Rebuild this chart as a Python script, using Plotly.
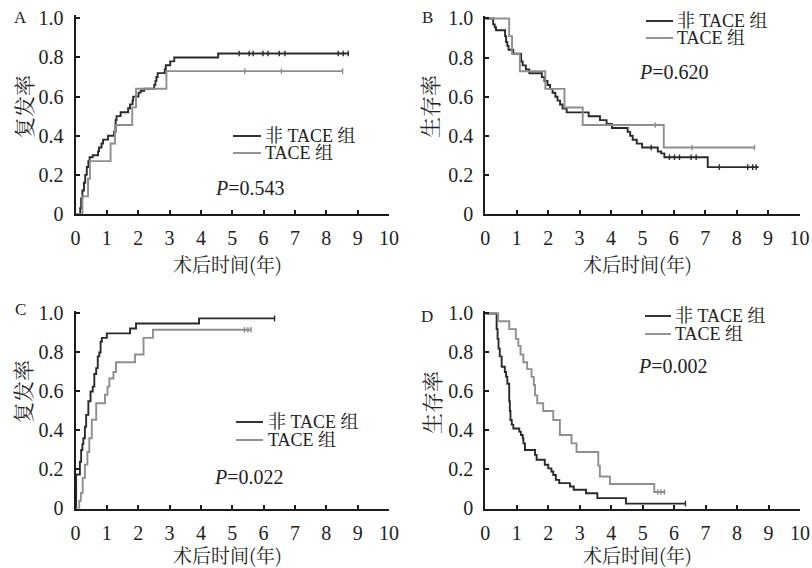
import plotly.graph_objects as go

# ---------------- data ----------------
# Panel A: recurrence (复发率)
A_non_t = [0, 0.15, 0.18, 0.22, 0.27, 0.31, 0.36, 0.41, 0.45, 0.55, 0.72, 0.75, 0.83, 0.88, 1.04, 1.23, 1.28, 1.31,
           1.44, 1.68, 1.74, 1.82, 1.84, 2.01, 2.08, 2.19, 2.51, 2.55, 2.58, 2.62, 2.85, 2.88, 3.02, 3.15, 4.55, 8.70]
A_non_v = [0, 0.03, 0.08, 0.12, 0.16, 0.20, 0.24, 0.27, 0.29, 0.30, 0.32, 0.34, 0.36, 0.38, 0.40, 0.42, 0.48, 0.50,
           0.52, 0.54, 0.56, 0.58, 0.60, 0.62, 0.63, 0.64, 0.66, 0.68, 0.70, 0.72, 0.74, 0.76, 0.78, 0.80, 0.82, 0.82]
A_non_c = [5.22, 5.54, 5.67, 5.98, 6.14, 6.50, 6.68, 8.38, 8.54, 8.70]
A_tace_t = [0, 0.22, 0.40, 0.46, 1.12, 1.26, 1.81, 1.93, 2.90, 8.52]
A_tace_v = [0, 0.09, 0.18, 0.27, 0.36, 0.455, 0.545, 0.64, 0.73, 0.73]
A_tace_c = [5.40, 6.57, 8.52]

# Panel B: survival (生存率)
B_non_t = [0, 0.25, 0.30, 0.34, 0.63, 0.66, 0.70, 0.74, 0.89, 1.14, 1.19, 1.29, 1.40, 1.80, 1.88, 1.98, 2.06, 2.14,
           2.23, 2.30, 2.38, 2.46, 2.59, 3.29, 3.65, 3.86, 4.03, 4.53, 4.61, 4.69, 4.82, 4.99, 5.49, 5.60, 5.70, 7.08, 8.70]
B_non_v = [1.0, 0.97, 0.955, 0.94, 0.91, 0.88, 0.86, 0.84, 0.82, 0.78, 0.76, 0.74, 0.72, 0.70, 0.68, 0.66, 0.64, 0.62,
           0.60, 0.58, 0.56, 0.54, 0.52, 0.50, 0.48, 0.46, 0.44, 0.42, 0.40, 0.38, 0.36, 0.34, 0.32, 0.31, 0.29, 0.24, 0.24]
B_non_c = [5.28, 5.86, 6.02, 6.18, 6.55, 6.71, 7.45, 8.35, 8.51, 8.62]
B_tace_t = [0, 0.76, 0.85, 1.10, 1.91, 2.52, 3.10, 5.68, 8.57]
B_tace_v = [1.0, 0.91, 0.82, 0.73, 0.64, 0.545, 0.455, 0.34, 0.34]
B_tace_c = [5.41, 6.58, 8.57]

# Panel C: recurrence (复发率)
C_non_t = [0, 0.02, 0.14, 0.18, 0.22, 0.25, 0.30, 0.34, 0.41, 0.48, 0.55, 0.60, 0.66, 0.71, 0.76, 0.80, 0.84, 1.00,
           1.74, 1.93, 3.94, 6.35]
C_non_v = [0, 0.174, 0.24, 0.30, 0.33, 0.36, 0.42, 0.48, 0.55, 0.60, 0.625, 0.69, 0.72, 0.78, 0.80, 0.855, 0.875, 0.898,
           0.923, 0.949, 0.975, 0.975]
C_non_c = [6.35]
C_tace_t = [0, 0.12, 0.17, 0.23, 0.30, 0.38, 0.44, 0.52, 0.66, 0.94, 1.02, 1.08, 1.21, 1.29, 1.90, 2.17, 2.47, 5.60]
C_tace_v = [0, 0.04, 0.08, 0.157, 0.225, 0.29, 0.36, 0.455, 0.54, 0.583, 0.625, 0.667, 0.70, 0.75, 0.79, 0.875, 0.917, 0.917]
C_tace_c = [5.39, 5.50, 5.60]

# Panel D: survival (生存率)
D_non_t = [0, 0.36, 0.39, 0.42, 0.46, 0.52, 0.62, 0.66, 0.70, 0.76, 0.78, 0.80, 0.84, 0.89, 1.08, 1.13, 1.19, 1.21,
           1.26, 1.58, 1.63, 1.89, 2.00, 2.10, 2.16, 2.24, 2.35, 2.69, 2.81, 3.20, 3.56, 4.47, 6.36]
D_non_v = [1.0, 0.92, 0.87, 0.82, 0.78, 0.727, 0.70, 0.676, 0.64, 0.55, 0.50, 0.454, 0.43, 0.41, 0.394, 0.377, 0.36, 0.334,
           0.30, 0.275, 0.25, 0.224, 0.206, 0.19, 0.172, 0.147, 0.13, 0.113, 0.096, 0.078, 0.053, 0.025, 0.025]
D_non_c = [6.36]
D_tace_t = [0, 0.41, 0.76, 0.97, 1.05, 1.12, 1.21, 1.33, 1.47, 1.54, 1.58, 1.65, 1.84, 2.16, 2.37, 2.74, 2.90, 3.59,
            3.64, 3.96, 5.37, 5.72]
D_tace_v = [1.0, 0.96, 0.92, 0.87, 0.834, 0.79, 0.75, 0.715, 0.675, 0.633, 0.58, 0.54, 0.50, 0.454, 0.377, 0.334, 0.29, 0.22,
            0.164, 0.126, 0.085, 0.085]
D_tace_c = [5.48, 5.58, 5.69]

panel_letters = ["A", "B", "C", "D"]
y_titles = ["复发率", "生存率", "复发率", "生存率"]
p_texts = ["0.543", "0.620", "0.022", "0.002"]
series_names = ["非 TACE 组", "TACE 组"]
x_title = "术后时间(年)"
x_tickvals = list(range(0, 11))
y_tickvals = [0, 0.2, 0.4, 0.6, 0.8, 1.0]
y_ticktext = ["0", "0.2", "0.4", "0.6", "0.8", "1.0"]

# ---------------- styling / layout ----------------
W, H = 812, 568
DARK = "#2a2a2a"
GRAY = "#8e8e8e"
AXIS = "#1c1c1c"
TXT = "#222222"
FONT = "Liberation Serif, Noto Serif CJK SC, Noto Sans CJK SC, serif"
CJK = "Noto Serif CJK SC, Noto Sans CJK SC, Liberation Serif, serif"

def px(x):
    return x / W

def py(y):
    return 1 - y / H

# plot areas in pixels: (left, right, y_at_1.0, y_at_0)
areas = [(75.5, 389, 18.3, 214), (485.3, 799.5, 18.5, 214),
         (75.5, 389, 313.5, 508.5), (485.3, 800, 313.5, 508.5)]
YTOP = 1.015

curves = [
    ((A_non_t, A_non_v, A_non_c), (A_tace_t, A_tace_v, A_tace_c)),
    ((B_non_t, B_non_v, B_non_c), (B_tace_t, B_tace_v, B_tace_c)),
    ((C_non_t, C_non_v, C_non_c), (C_tace_t, C_tace_v, C_tace_c)),
    ((D_non_t, D_non_v, D_non_c), (D_tace_t, D_tace_v, D_tace_c)),
]

# legend positions (pixels): line x0, x1, text x, y first row, y second row
legend_pos = [(233, 261, 263, 136, 153), (646, 673, 675, 21, 38),
              (236, 263, 266, 422, 440), (645, 671, 673, 316, 334)]
p_pos = [(250, 188), (674, 72), (249, 477), (673, 366)]
letter_pos = [(20, 18), (427, 18), (20, 309), (427, 316)]
ytitle_pos = [(23, 107), (429, 107), (22, 392), (431, 403)]
xtitle_y = [263, 554]


def step_value(ts, vs, t):
    val = vs[0]
    for ti, vi in zip(ts, vs):
        if ti <= t:
            val = vi
    return val


fig = go.Figure()
annotations = []
shapes = []
colors = [DARK, GRAY]

for i in range(4):
    l, r, y1, y0 = areas[i]
    ppu = y0 - y1
    top_px = y1 - (YTOP - 1.0) * ppu
    sfx = "" if i == 0 else str(i + 1)
    xa, ya = "x" + sfx, "y" + sfx
    for k, (ts, vs, cs) in enumerate(curves[i]):
        fig.add_trace(go.Scatter(x=ts, y=vs, mode="lines", line=dict(color=colors[k], width=1.9, shape="hv"),
                                 xaxis=xa, yaxis=ya, showlegend=False, name=series_names[k]))
        fig.add_trace(go.Scatter(x=cs, y=[step_value(ts, vs, c) for c in cs], mode="markers",
                                 marker=dict(symbol="line-ns-open", size=4, color=colors[k],
                                             line=dict(color=colors[k], width=1.4)),
                                 xaxis=xa, yaxis=ya, showlegend=False, hoverinfo="skip"))
    axis_common = dict(showline=True, linecolor=AXIS, linewidth=2, ticks="inside", ticklen=4, tickwidth=1.5,
                       tickcolor=AXIS, showgrid=False, zeroline=False, automargin=False,
                       tickfont=dict(family=FONT, size=20, color=TXT))
    fig.layout["xaxis" + sfx] = dict(domain=[px(l), px(r)], range=[0, 10], tickvals=x_tickvals,
                                     anchor=ya, ticklabelstandoff=5, **axis_common)
    fig.layout["yaxis" + sfx] = dict(domain=[py(y0), py(top_px)], range=[0, YTOP], tickvals=y_tickvals,
                                     ticktext=y_ticktext, anchor=xa, ticklabelstandoff=6, **axis_common)
    # x title
    annotations.append(dict(text=x_title, x=px((l + r) / 2 - 5), y=py(xtitle_y[i // 2]), xref="paper", yref="paper",
                            showarrow=False, font=dict(family=CJK, size=19, color=TXT),
                            xanchor="center", yanchor="middle"))
    # y title
    annotations.append(dict(text=y_titles[i], x=px(ytitle_pos[i][0]), y=py(ytitle_pos[i][1]), xref="paper",
                            yref="paper", showarrow=False, textangle=-90, font=dict(family=CJK, size=21, color=TXT),
                            xanchor="center", yanchor="middle"))
    # panel letter
    annotations.append(dict(text=panel_letters[i], x=px(letter_pos[i][0]), y=py(letter_pos[i][1]), xref="paper",
                            yref="paper", showarrow=False, font=dict(family=FONT, size=17, color=TXT),
                            xanchor="center", yanchor="middle"))
    # P value
    annotations.append(dict(text="<i>P</i>=" + p_texts[i], x=px(p_pos[i][0]), y=py(p_pos[i][1]), xref="paper",
                            yref="paper", showarrow=False, font=dict(family=FONT, size=20, color=TXT),
                            xanchor="center", yanchor="middle"))
    # legend
    lx0, lx1, tx, ly1, ly2 = legend_pos[i]
    for k, ly in enumerate([ly1, ly2]):
        shapes.append(dict(type="line", xref="paper", yref="paper", x0=px(lx0), x1=px(lx1), y0=py(ly), y1=py(ly),
                           line=dict(color=colors[k], width=1.9)))
        annotations.append(dict(text=series_names[k], x=px(tx), y=py(ly), xref="paper", yref="paper",
                                showarrow=False, font=dict(family=FONT, size=18, color=TXT),
                                xanchor="left", yanchor="middle"))

fig.update_layout(width=W, height=H, margin=dict(l=0, r=0, t=0, b=0, autoexpand=False), paper_bgcolor="white",
                  plot_bgcolor="white", showlegend=False, annotations=annotations, shapes=shapes,
                  font=dict(family=FONT, color=TXT))

fig.write_html("out.html", config={"displayModeBar": False},
               post_script="document.body.style.margin='0px';document.body.style.overflow='hidden';")
